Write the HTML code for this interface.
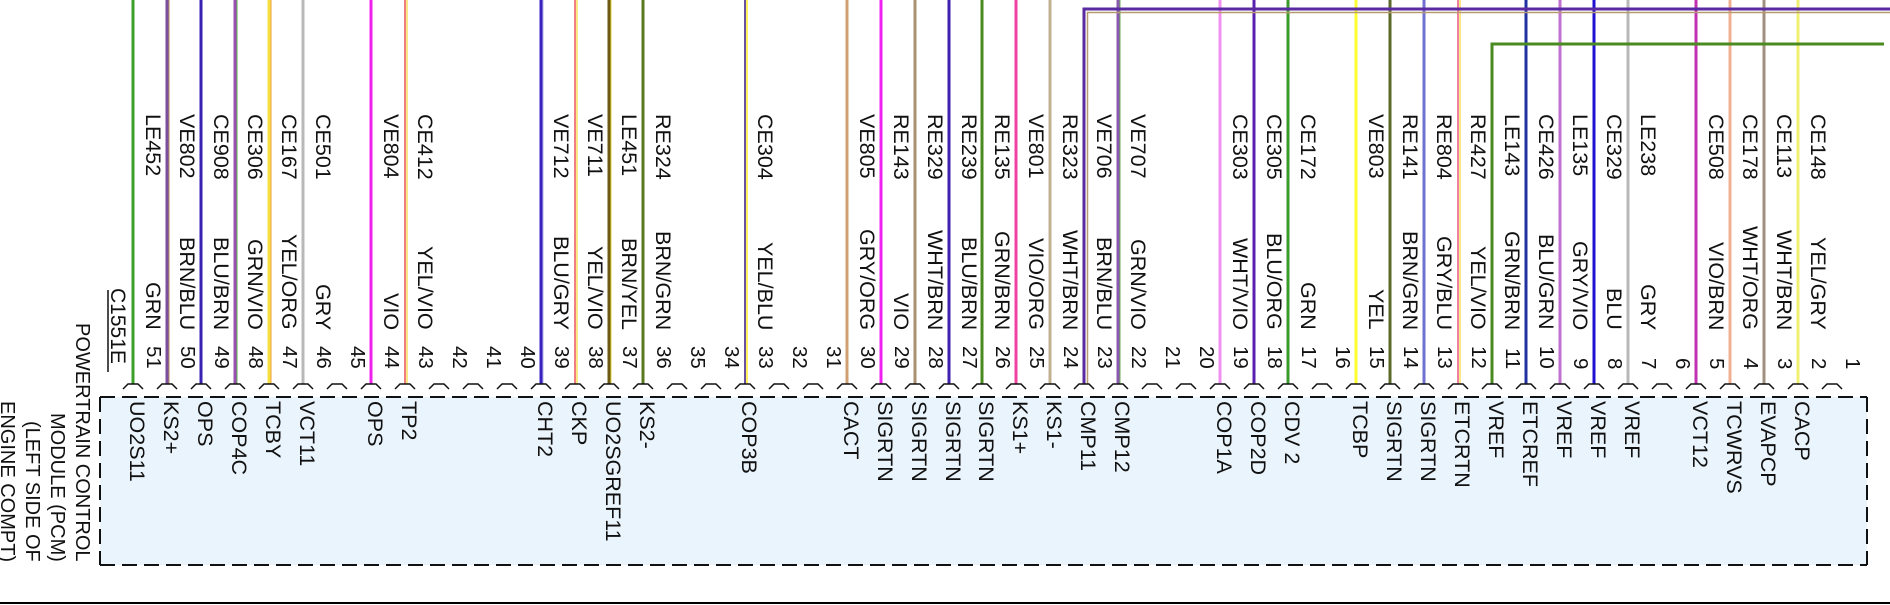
<!DOCTYPE html>
<html><head><meta charset="utf-8"><style>
html,body{margin:0;padding:0;background:#fff}
body{width:1890px;height:605px;position:relative;overflow:hidden;font-family:"Liberation Sans",Arial,sans-serif;color:#111}
svg{position:absolute;left:0;top:0}
.t{position:absolute;writing-mode:vertical-rl;font-size:21.5px;line-height:22px;width:22px;white-space:nowrap}
.a{top:114px}.c{bottom:275px}.n{bottom:236px;font-size:20.5px}.f{top:401px}
#lt{position:absolute;left:-6px;top:300px;width:100px;height:262px;writing-mode:vertical-rl;font-size:20px;line-height:25px;text-align:end;white-space:nowrap}
</style></head><body>
<svg width="1890" height="605" xmlns="http://www.w3.org/2000/svg">
<rect x="100" y="397" width="1767" height="168" fill="#eaf4fc"/>
<g fill="none" stroke="#111" stroke-width="2" stroke-dasharray="15 7">
<line x1="100" y1="397" x2="1867" y2="397"/>
<line x1="100" y1="565" x2="1867" y2="565"/>
<line x1="100" y1="397" x2="100" y2="565"/>
<line x1="1867" y1="397" x2="1867" y2="565"/>
</g>
<line x1="0" y1="603" x2="1890" y2="603" stroke="#000" stroke-width="2"/>
<line x1="108" y1="290" x2="108" y2="372" stroke="#111" stroke-width="1.5"/>
<g stroke-width="3" fill="none">
<line x1="133" y1="0" x2="133" y2="384" stroke="#3aa02a"/>
<line x1="167" y1="0" x2="167" y2="384" stroke="#7b4ea0"/><line x1="169" y1="0" x2="169" y2="384" stroke="#b08a60" stroke-width="1"/>
<line x1="201" y1="0" x2="201" y2="384" stroke="#3a20b0"/>
<line x1="235" y1="0" x2="235" y2="384" stroke="#9a50b0"/><line x1="237" y1="0" x2="237" y2="384" stroke="#5ab050" stroke-width="1"/>
<line x1="269" y1="0" x2="269" y2="384" stroke="#f5e040"/><line x1="271" y1="0" x2="271" y2="384" stroke="#f0a040" stroke-width="1"/>
<line x1="303" y1="0" x2="303" y2="384" stroke="#b8b8b8"/>
<line x1="371" y1="0" x2="371" y2="384" stroke="#f020f0"/>
<line x1="405" y1="0" x2="405" y2="384" stroke="#f08080" stroke-width="2"/><line x1="407" y1="0" x2="407" y2="384" stroke="#f5e060" stroke-width="1.5"/>
<line x1="541" y1="0" x2="541" y2="384" stroke="#3a20c0"/><line x1="543" y1="0" x2="543" y2="384" stroke="#b0b0e0" stroke-width="1"/>
<line x1="575" y1="0" x2="575" y2="384" stroke="#f08080" stroke-width="2"/><line x1="577" y1="0" x2="577" y2="384" stroke="#f5e060" stroke-width="1.5"/>
<line x1="609" y1="0" x2="609" y2="384" stroke="#6b5a10"/><line x1="611" y1="0" x2="611" y2="384" stroke="#e0d040" stroke-width="1"/>
<line x1="643" y1="0" x2="643" y2="384" stroke="#5a7a20"/>
<line x1="745" y1="0" x2="745" y2="384" stroke="#6a50a0" stroke-width="2"/><line x1="747" y1="0" x2="747" y2="384" stroke="#fff060" stroke-width="2"/>
<line x1="847" y1="0" x2="847" y2="384" stroke="#d0a070"/>
<line x1="881" y1="0" x2="881" y2="384" stroke="#f020f0"/>
<line x1="915" y1="0" x2="915" y2="384" stroke="#a89070"/>
<line x1="949" y1="0" x2="949" y2="384" stroke="#4020b0"/>
<line x1="982" y1="0" x2="982" y2="384" stroke="#4a8a20"/>
<line x1="1016" y1="0" x2="1016" y2="384" stroke="#f040a0"/>
<line x1="1050" y1="0" x2="1050" y2="384" stroke="#c0b090"/>
<line x1="1118" y1="0" x2="1118" y2="384" stroke="#8a5ab0"/><line x1="1120" y1="0" x2="1120" y2="384" stroke="#6ab050" stroke-width="1"/>
<line x1="1220" y1="0" x2="1220" y2="384" stroke="#f090f0"/>
<line x1="1254" y1="0" x2="1254" y2="384" stroke="#5a20b0"/>
<line x1="1288" y1="0" x2="1288" y2="384" stroke="#3a9a2a"/>
<line x1="1356" y1="0" x2="1356" y2="384" stroke="#ffff30"/>
<line x1="1390" y1="0" x2="1390" y2="384" stroke="#5a6a2a"/>
<line x1="1424" y1="0" x2="1424" y2="384" stroke="#7070d0"/>
<line x1="1458" y1="0" x2="1458" y2="384" stroke="#f080a0" stroke-width="2"/><line x1="1460" y1="0" x2="1460" y2="384" stroke="#f5e060" stroke-width="1.5"/>
<line x1="1526" y1="0" x2="1526" y2="384" stroke="#2030a0"/>
<line x1="1560" y1="0" x2="1560" y2="384" stroke="#c070d0"/>
<line x1="1594" y1="0" x2="1594" y2="384" stroke="#2010d0"/>
<line x1="1628" y1="0" x2="1628" y2="384" stroke="#b8b8b8"/>
<line x1="1696" y1="0" x2="1696" y2="384" stroke="#c030b0"/>
<line x1="1730" y1="0" x2="1730" y2="384" stroke="#f0b090"/>
<line x1="1764" y1="0" x2="1764" y2="384" stroke="#a09080"/>
<line x1="1798" y1="0" x2="1798" y2="384" stroke="#f0f070"/>
<path d="M1084 384 V9 H1890" stroke="#5a2aa0"/>
<path d="M1087.5 384 V12.5 H1890" stroke="#b89a70" stroke-width="1.5"/>
<path d="M1492 384 V44 H1884" stroke="#4a8a20"/>
</g>
<g fill="none" stroke="#111" stroke-width="1.5">
<path d="M123 389l5-5h10l5 5M157 389l5-5h10l5 5M191 389l5-5h10l5 5M225 389l5-5h10l5 5M259 389l5-5h10l5 5M293 389l5-5h10l5 5M327 389l5-5h10l5 5M361 389l5-5h10l5 5M395 389l5-5h10l5 5M429 389l5-5h10l5 5M463 389l5-5h10l5 5M497 389l5-5h10l5 5M531 389l5-5h10l5 5M565 389l5-5h10l5 5M599 389l5-5h10l5 5M633 389l5-5h10l5 5M667 389l5-5h10l5 5M701 389l5-5h10l5 5M735 389l5-5h10l5 5M769 389l5-5h10l5 5M803 389l5-5h10l5 5M837 389l5-5h10l5 5M871 389l5-5h10l5 5M905 389l5-5h10l5 5M939 389l5-5h10l5 5M972 389l5-5h10l5 5M1006 389l5-5h10l5 5M1040 389l5-5h10l5 5M1074 389l5-5h10l5 5M1108 389l5-5h10l5 5M1142 389l5-5h10l5 5M1176 389l5-5h10l5 5M1210 389l5-5h10l5 5M1244 389l5-5h10l5 5M1278 389l5-5h10l5 5M1312 389l5-5h10l5 5M1346 389l5-5h10l5 5M1380 389l5-5h10l5 5M1414 389l5-5h10l5 5M1448 389l5-5h10l5 5M1482 389l5-5h10l5 5M1516 389l5-5h10l5 5M1550 389l5-5h10l5 5M1584 389l5-5h10l5 5M1618 389l5-5h10l5 5M1652 389l5-5h10l5 5M1686 389l5-5h10l5 5M1720 389l5-5h10l5 5M1754 389l5-5h10l5 5M1788 389l5-5h10l5 5M1822 389l5-5h10l5 5"/>
</g>
</svg>
<div id="lt">POWERTRAIN CONTROL<br>MODULE (PCM)<br>(LEFT SIDE OF<br>ENGINE COMPT)</div>
<div class="t" style="left:106px;top:288px;font-size:21px">C1551E</div>
<!-- ID labels -->
<div class="t a" style="left:142px">LE452</div><div class="t a" style="left:176px">VE802</div><div class="t a" style="left:210px">CE908</div><div class="t a" style="left:244px">CE306</div><div class="t a" style="left:278px">CE167</div><div class="t a" style="left:312px">CE501</div><div class="t a" style="left:380px">VE804</div><div class="t a" style="left:414px">CE412</div><div class="t a" style="left:550px">VE712</div><div class="t a" style="left:584px">VE711</div><div class="t a" style="left:618px">LE451</div><div class="t a" style="left:652px">RE324</div><div class="t a" style="left:754px">CE304</div><div class="t a" style="left:856px">VE805</div><div class="t a" style="left:890px">RE143</div><div class="t a" style="left:924px">RE329</div><div class="t a" style="left:958px">RE239</div><div class="t a" style="left:991px">RE135</div><div class="t a" style="left:1025px">VE801</div><div class="t a" style="left:1059px">RE323</div><div class="t a" style="left:1093px">VE706</div><div class="t a" style="left:1127px">VE707</div><div class="t a" style="left:1229px">CE303</div><div class="t a" style="left:1263px">CE305</div><div class="t a" style="left:1297px">CE172</div><div class="t a" style="left:1365px">VE803</div><div class="t a" style="left:1399px">RE141</div><div class="t a" style="left:1433px">RE804</div><div class="t a" style="left:1467px">RE427</div><div class="t a" style="left:1501px">LE143</div><div class="t a" style="left:1535px">CE426</div><div class="t a" style="left:1569px">LE135</div><div class="t a" style="left:1603px">CE329</div><div class="t a" style="left:1637px">LE238</div><div class="t a" style="left:1705px">CE508</div><div class="t a" style="left:1739px">CE178</div><div class="t a" style="left:1773px">CE113</div><div class="t a" style="left:1807px">CE148</div>
<!-- color labels -->
<div class="t c" style="left:142px">GRN</div><div class="t c" style="left:176px">BRN/BLU</div><div class="t c" style="left:210px">BLU/BRN</div><div class="t c" style="left:244px">GRN/VIO</div><div class="t c" style="left:278px">YEL/ORG</div><div class="t c" style="left:312px">GRY</div><div class="t c" style="left:380px">VIO</div><div class="t c" style="left:414px">YEL/VIO</div><div class="t c" style="left:550px">BLU/GRY</div><div class="t c" style="left:584px">YEL/VIO</div><div class="t c" style="left:618px">BRN/YEL</div><div class="t c" style="left:652px">BRN/GRN</div><div class="t c" style="left:754px">YEL/BLU</div><div class="t c" style="left:856px">GRY/ORG</div><div class="t c" style="left:890px">VIO</div><div class="t c" style="left:924px">WHT/BRN</div><div class="t c" style="left:958px">BLU/BRN</div><div class="t c" style="left:991px">GRN/BRN</div><div class="t c" style="left:1025px">VIO/ORG</div><div class="t c" style="left:1059px">WHT/BRN</div><div class="t c" style="left:1093px">BRN/BLU</div><div class="t c" style="left:1127px">GRN/VIO</div><div class="t c" style="left:1229px">WHT/VIO</div><div class="t c" style="left:1263px">BLU/ORG</div><div class="t c" style="left:1297px">GRN</div><div class="t c" style="left:1365px">YEL</div><div class="t c" style="left:1399px">BRN/GRN</div><div class="t c" style="left:1433px">GRY/BLU</div><div class="t c" style="left:1467px">YEL/VIO</div><div class="t c" style="left:1501px">GRN/BRN</div><div class="t c" style="left:1535px">BLU/GRN</div><div class="t c" style="left:1569px">GRY/VIO</div><div class="t c" style="left:1603px">BLU</div><div class="t c" style="left:1637px">GRY</div><div class="t c" style="left:1705px">VIO/BRN</div><div class="t c" style="left:1739px">WHT/ORG</div><div class="t c" style="left:1773px">WHT/BRN</div><div class="t c" style="left:1807px">YEL/GRY</div>
<!-- pin numbers -->
<div class="t n" style="left:142px">51</div><div class="t n" style="left:176px">50</div><div class="t n" style="left:210px">49</div><div class="t n" style="left:244px">48</div><div class="t n" style="left:278px">47</div><div class="t n" style="left:312px">46</div><div class="t n" style="left:346px">45</div><div class="t n" style="left:380px">44</div><div class="t n" style="left:414px">43</div><div class="t n" style="left:448px">42</div><div class="t n" style="left:482px">41</div><div class="t n" style="left:516px">40</div><div class="t n" style="left:550px">39</div><div class="t n" style="left:584px">38</div><div class="t n" style="left:618px">37</div><div class="t n" style="left:652px">36</div><div class="t n" style="left:686px">35</div><div class="t n" style="left:720px">34</div><div class="t n" style="left:754px">33</div><div class="t n" style="left:788px">32</div><div class="t n" style="left:822px">31</div><div class="t n" style="left:856px">30</div><div class="t n" style="left:890px">29</div><div class="t n" style="left:924px">28</div><div class="t n" style="left:958px">27</div><div class="t n" style="left:991px">26</div><div class="t n" style="left:1025px">25</div><div class="t n" style="left:1059px">24</div><div class="t n" style="left:1093px">23</div><div class="t n" style="left:1127px">22</div><div class="t n" style="left:1161px">21</div><div class="t n" style="left:1195px">20</div><div class="t n" style="left:1229px">19</div><div class="t n" style="left:1263px">18</div><div class="t n" style="left:1297px">17</div><div class="t n" style="left:1331px">16</div><div class="t n" style="left:1365px">15</div><div class="t n" style="left:1399px">14</div><div class="t n" style="left:1433px">13</div><div class="t n" style="left:1467px">12</div><div class="t n" style="left:1501px">11</div><div class="t n" style="left:1535px">10</div><div class="t n" style="left:1569px">9</div><div class="t n" style="left:1603px">8</div><div class="t n" style="left:1637px">7</div><div class="t n" style="left:1671px">6</div><div class="t n" style="left:1705px">5</div><div class="t n" style="left:1739px">4</div><div class="t n" style="left:1773px">3</div><div class="t n" style="left:1807px">2</div><div class="t n" style="left:1841px">1</div>
<!-- function labels -->
<div class="t f" style="left:126px">UO2S11</div><div class="t f" style="left:160px">KS2+</div><div class="t f" style="left:194px">OPS</div><div class="t f" style="left:228px">COP4C</div><div class="t f" style="left:262px">TCBY</div><div class="t f" style="left:296px">VCT11</div><div class="t f" style="left:364px">OPS</div><div class="t f" style="left:398px">TP2</div><div class="t f" style="left:534px">CHT2</div><div class="t f" style="left:568px">CKP</div><div class="t f" style="left:602px">UO2SGREF11</div><div class="t f" style="left:636px">KS2-</div><div class="t f" style="left:738px">COP3B</div><div class="t f" style="left:840px">CACT</div><div class="t f" style="left:874px">SIGRTN</div><div class="t f" style="left:908px">SIGRTN</div><div class="t f" style="left:942px">SIGRTN</div><div class="t f" style="left:975px">SIGRTN</div><div class="t f" style="left:1009px">KS1+</div><div class="t f" style="left:1043px">KS1-</div><div class="t f" style="left:1077px">CMP11</div><div class="t f" style="left:1111px">CMP12</div><div class="t f" style="left:1213px">COP1A</div><div class="t f" style="left:1247px">COP2D</div><div class="t f" style="left:1281px">CDV 2</div><div class="t f" style="left:1349px">TCBP</div><div class="t f" style="left:1383px">SIGRTN</div><div class="t f" style="left:1417px">SIGRTN</div><div class="t f" style="left:1451px">ETCRTN</div><div class="t f" style="left:1485px">VREF</div><div class="t f" style="left:1519px">ETCREF</div><div class="t f" style="left:1553px">VREF</div><div class="t f" style="left:1587px">VREF</div><div class="t f" style="left:1621px">VREF</div><div class="t f" style="left:1689px">VCT12</div><div class="t f" style="left:1723px">TCWRVS</div><div class="t f" style="left:1757px">EVAPCP</div><div class="t f" style="left:1791px">CACP</div>
</body></html>
